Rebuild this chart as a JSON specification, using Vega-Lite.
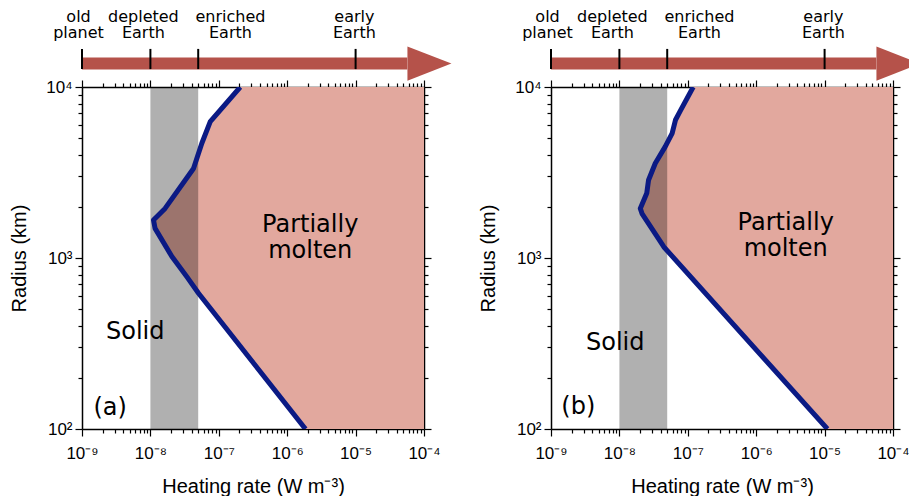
{
  "$schema": "https://vega.github.io/schema/vega-lite/v6.json",
  "padding": {"left": 9, "top": 9, "right": 0, "bottom": 0},
  "spacing": 26,
  "datasets": {
    "curveA": [
      {"q": 1.85e-6, "r": 100},
      {"q": 5.05e-8, "r": 622},
      {"q": 3.4e-8, "r": 778},
      {"q": 2.06e-8, "r": 1020},
      {"q": 1.17e-8, "r": 1490},
      {"q": 1.11e-8, "r": 1667},
      {"q": 1.64e-8, "r": 1950},
      {"q": 4.27e-8, "r": 3340},
      {"q": 5.65e-8, "r": 4690},
      {"q": 7.5e-8, "r": 6270},
      {"q": 2.06e-7, "r": 10000}
    ],
    "curveB": [
      {"q": 1.1e-5, "r": 100},
      {"q": 4.47e-8, "r": 1160},
      {"q": 2.14e-8, "r": 1820},
      {"q": 2.02e-8, "r": 1950},
      {"q": 2.51e-8, "r": 2390},
      {"q": 2.67e-8, "r": 2860},
      {"q": 3.35e-8, "r": 3580},
      {"q": 4.68e-8, "r": 4480},
      {"q": 5.9e-8, "r": 5360},
      {"q": 6.6e-8, "r": 6410},
      {"q": 7.87e-8, "r": 7330},
      {"q": 1.2e-7, "r": 10000}
    ],
    "band": [{"lo": 1e-8, "hi": 5e-8, "rlo": 100, "rhi": 10000}],
    "textA": [
      {"q": 2.17e-6, "r": 1560, "t": "Partially\nmolten"},
      {"q": 6e-9, "r": 371, "t": "Solid"},
      {"q": 2.58e-9, "r": 132, "t": "(a)"}
    ],
    "textB": [
      {"q": 2.7e-6, "r": 1610, "t": "Partially\nmolten"},
      {"q": 8.7e-9, "r": 317, "t": "Solid"},
      {"q": 2.51e-9, "r": 135, "t": "(b)"}
    ],
    "arrow": [{"q0": 1e-9, "q1": 5.7e-5, "qh": 1.2e-4, "r": 13700}],
    "arrowTicks": [{"q": 1e-9}, {"q": 1e-8}, {"q": 5e-8}, {"q": 1e-5}],
    "arrowLabels": [
      {"q": 8.9e-10, "t": "old\nplanet"},
      {"q": 7.9e-9, "t": "depleted\nEarth"},
      {"q": 1.48e-7, "t": "enriched\nEarth"},
      {"q": 9.6e-6, "t": "early\nEarth"}
    ]
  },
  "hconcat": [
    {
      "width": 342,
      "height": 342,
      "resolve": {"axis": {"x": "independent", "y": "independent"}},
      "layer": [
        {
          "data": {"name": "curveA"},
          "mark": {"type": "area", "orient": "horizontal", "color": "#e2a89e", "clip": true},
          "encoding": {
            "x": {"field": "q", "type": "quantitative", "scale": {"type": "log", "domain": [1e-9, 1e-4], "nice": false},
              "axis": {"orient": "bottom", "values": [1e-9,2e-9,3e-9,4e-9,5e-9,6e-9,7e-9,8e-9,9e-9,1e-8,2e-8,3e-8,4e-8,5e-8,6e-8,7e-8,8e-8,9e-8,1e-7,2e-7,3e-7,4e-7,5e-7,6e-7,7e-7,8e-7,9e-7,1e-6,2e-6,3e-6,4e-6,5e-6,6e-6,7e-6,8e-6,9e-6,1e-5,2e-5,3e-5,4e-5,5e-5,6e-5,7e-5,8e-5,9e-5,1e-4],
                "labelExpr": "abs(log(datum.value)/LN10 - round(log(datum.value)/LN10)) < 0.01 ? '10' + ['⁻⁹','⁻⁸','⁻⁷','⁻⁶','⁻⁵','⁻⁴'][round(log(datum.value)/LN10)+9] : ''",
                "tickSize": {"condition": {"test": "abs(log(datum.value)/LN10 - round(log(datum.value)/LN10)) < 0.01", "value": 7}, "value": 4},
                "labelOverlap": false, "labelFlush": false, "labelPadding": 9, "title": "Heating rate (W m⁻³)", "titlePadding": 15}},
            "x2": {"datum": 0.0001},
            "y": {"field": "r", "type": "quantitative", "scale": {"type": "log", "domain": [100, 10000], "nice": false},
              "axis": {"orient": "left", "values": [100,200,300,400,500,600,700,800,900,1000,2000,3000,4000,5000,6000,7000,8000,9000,10000],
                "labelExpr": "abs(log(datum.value)/LN10 - round(log(datum.value)/LN10)) < 0.01 ? '10' + ['²','³','⁴'][round(log(datum.value)/LN10)-2] : ''",
                "tickSize": {"condition": {"test": "abs(log(datum.value)/LN10 - round(log(datum.value)/LN10)) < 0.01", "value": 7}, "value": 4},
                "labelOverlap": false, "labelFlush": false, "labelPadding": 3, "title": "Radius (km)", "titlePadding": 16}}
          }
        },
        {
          "data": {"name": "band"},
          "mark": {"type": "rect", "color": "black", "opacity": 0.31},
          "encoding": {
            "x": {"field": "lo", "type": "quantitative",
              "axis": {"orient": "top", "values": [1e-9,2e-9,3e-9,4e-9,5e-9,6e-9,7e-9,8e-9,9e-9,1e-8,2e-8,3e-8,4e-8,5e-8,6e-8,7e-8,8e-8,9e-8,1e-7,2e-7,3e-7,4e-7,5e-7,6e-7,7e-7,8e-7,9e-7,1e-6,2e-6,3e-6,4e-6,5e-6,6e-6,7e-6,8e-6,9e-6,1e-5,2e-5,3e-5,4e-5,5e-5,6e-5,7e-5,8e-5,9e-5,1e-4], "labels": false, "title": null,
                "tickSize": {"condition": {"test": "abs(log(datum.value)/LN10 - round(log(datum.value)/LN10)) < 0.01", "value": 7}, "value": 4}}},
            "x2": {"field": "hi"},
            "y": {"field": "rlo", "type": "quantitative",
              "axis": {"orient": "right", "values": [100,200,300,400,500,600,700,800,900,1000,2000,3000,4000,5000,6000,7000,8000,9000,10000], "labels": false, "title": null,
                "tickSize": {"condition": {"test": "abs(log(datum.value)/LN10 - round(log(datum.value)/LN10)) < 0.01", "value": 7}, "value": 4}}},
            "y2": {"field": "rhi"}
          }
        },
        {
          "data": {"name": "curveA"},
          "mark": {"type": "line", "color": "#0b1a84", "strokeWidth": 5, "strokeJoin": "round", "clip": true},
          "encoding": {
            "x": {"field": "q", "type": "quantitative", "axis": null},
            "y": {"field": "r", "type": "quantitative", "axis": null},
            "order": {"field": "r"}
          }
        },
        {
          "data": {"name": "textA"},
          "mark": {"type": "text", "font": "DejaVu Sans", "fontSize": 24, "lineBreak": "\n", "lineHeight": 26, "align": "center", "baseline": "middle", "color": "black"},
          "encoding": {
            "x": {"field": "q", "type": "quantitative", "axis": null},
            "y": {"field": "r", "type": "quantitative", "axis": null},
            "text": {"field": "t"}
          }
        },
        {
          "data": {"name": "arrow"},
          "mark": {"type": "rule", "color": "#b5524a", "strokeWidth": 12, "strokeCap": "butt"},
          "encoding": {
            "x": {"field": "q0", "type": "quantitative", "axis": null},
            "x2": {"field": "q1"},
            "y": {"field": "r", "type": "quantitative", "axis": null}
          }
        },
        {
          "data": {"name": "arrow"},
          "mark": {"type": "point", "shape": "M -1 -0.773 L 1 0 L -1 0.773 Z", "size": 1936, "filled": true, "color": "#b5524a", "opacity": 1, "strokeWidth": 0},
          "encoding": {
            "x": {"field": "qh", "type": "quantitative", "axis": null},
            "y": {"field": "r", "type": "quantitative", "axis": null}
          }
        },
        {
          "data": {"name": "arrowTicks"},
          "mark": {"type": "rule", "color": "black", "strokeWidth": 2},
          "encoding": {
            "x": {"field": "q", "type": "quantitative", "axis": null},
            "y": {"datum": 12730, "type": "quantitative", "axis": null},
            "y2": {"datum": 16700}
          }
        },
        {
          "data": {"name": "arrowLabels"},
          "mark": {"type": "text", "font": "DejaVu Sans", "fontSize": 16, "lineBreak": "\n", "lineHeight": 16, "align": "center", "baseline": "middle", "color": "black"},
          "encoding": {
            "x": {"field": "q", "type": "quantitative", "axis": null},
            "y": {"datum": 25500, "type": "quantitative", "axis": null},
            "text": {"field": "t"}
          }
        }
      ]
    },
    {
      "width": 342,
      "height": 342,
      "resolve": {"axis": {"x": "independent", "y": "independent"}},
      "layer": [
        {
          "data": {"name": "curveB"},
          "mark": {"type": "area", "orient": "horizontal", "color": "#e2a89e", "clip": true},
          "encoding": {
            "x": {"field": "q", "type": "quantitative", "scale": {"type": "log", "domain": [1e-9, 1e-4], "nice": false},
              "axis": {"orient": "bottom", "values": [1e-9,2e-9,3e-9,4e-9,5e-9,6e-9,7e-9,8e-9,9e-9,1e-8,2e-8,3e-8,4e-8,5e-8,6e-8,7e-8,8e-8,9e-8,1e-7,2e-7,3e-7,4e-7,5e-7,6e-7,7e-7,8e-7,9e-7,1e-6,2e-6,3e-6,4e-6,5e-6,6e-6,7e-6,8e-6,9e-6,1e-5,2e-5,3e-5,4e-5,5e-5,6e-5,7e-5,8e-5,9e-5,1e-4],
                "labelExpr": "abs(log(datum.value)/LN10 - round(log(datum.value)/LN10)) < 0.01 ? '10' + ['⁻⁹','⁻⁸','⁻⁷','⁻⁶','⁻⁵','⁻⁴'][round(log(datum.value)/LN10)+9] : ''",
                "tickSize": {"condition": {"test": "abs(log(datum.value)/LN10 - round(log(datum.value)/LN10)) < 0.01", "value": 7}, "value": 4},
                "labelOverlap": false, "labelFlush": false, "labelPadding": 9, "title": "Heating rate (W m⁻³)", "titlePadding": 15}},
            "x2": {"datum": 0.0001},
            "y": {"field": "r", "type": "quantitative", "scale": {"type": "log", "domain": [100, 10000], "nice": false},
              "axis": {"orient": "left", "values": [100,200,300,400,500,600,700,800,900,1000,2000,3000,4000,5000,6000,7000,8000,9000,10000],
                "labelExpr": "abs(log(datum.value)/LN10 - round(log(datum.value)/LN10)) < 0.01 ? '10' + ['²','³','⁴'][round(log(datum.value)/LN10)-2] : ''",
                "tickSize": {"condition": {"test": "abs(log(datum.value)/LN10 - round(log(datum.value)/LN10)) < 0.01", "value": 7}, "value": 4},
                "labelOverlap": false, "labelFlush": false, "labelPadding": 3, "title": "Radius (km)", "titlePadding": 16}}
          }
        },
        {
          "data": {"name": "band"},
          "mark": {"type": "rect", "color": "black", "opacity": 0.31},
          "encoding": {
            "x": {"field": "lo", "type": "quantitative",
              "axis": {"orient": "top", "values": [1e-9,2e-9,3e-9,4e-9,5e-9,6e-9,7e-9,8e-9,9e-9,1e-8,2e-8,3e-8,4e-8,5e-8,6e-8,7e-8,8e-8,9e-8,1e-7,2e-7,3e-7,4e-7,5e-7,6e-7,7e-7,8e-7,9e-7,1e-6,2e-6,3e-6,4e-6,5e-6,6e-6,7e-6,8e-6,9e-6,1e-5,2e-5,3e-5,4e-5,5e-5,6e-5,7e-5,8e-5,9e-5,1e-4], "labels": false, "title": null,
                "tickSize": {"condition": {"test": "abs(log(datum.value)/LN10 - round(log(datum.value)/LN10)) < 0.01", "value": 7}, "value": 4}}},
            "x2": {"field": "hi"},
            "y": {"field": "rlo", "type": "quantitative",
              "axis": {"orient": "right", "values": [100,200,300,400,500,600,700,800,900,1000,2000,3000,4000,5000,6000,7000,8000,9000,10000], "labels": false, "title": null,
                "tickSize": {"condition": {"test": "abs(log(datum.value)/LN10 - round(log(datum.value)/LN10)) < 0.01", "value": 7}, "value": 4}}},
            "y2": {"field": "rhi"}
          }
        },
        {
          "data": {"name": "curveB"},
          "mark": {"type": "line", "color": "#0b1a84", "strokeWidth": 5, "strokeJoin": "round", "clip": true},
          "encoding": {
            "x": {"field": "q", "type": "quantitative", "axis": null},
            "y": {"field": "r", "type": "quantitative", "axis": null},
            "order": {"field": "r"}
          }
        },
        {
          "data": {"name": "textB"},
          "mark": {"type": "text", "font": "DejaVu Sans", "fontSize": 24, "lineBreak": "\n", "lineHeight": 26, "align": "center", "baseline": "middle", "color": "black"},
          "encoding": {
            "x": {"field": "q", "type": "quantitative", "axis": null},
            "y": {"field": "r", "type": "quantitative", "axis": null},
            "text": {"field": "t"}
          }
        },
        {
          "data": {"name": "arrow"},
          "mark": {"type": "rule", "color": "#b5524a", "strokeWidth": 12, "strokeCap": "butt"},
          "encoding": {
            "x": {"field": "q0", "type": "quantitative", "axis": null},
            "x2": {"field": "q1"},
            "y": {"field": "r", "type": "quantitative", "axis": null}
          }
        },
        {
          "data": {"name": "arrow"},
          "mark": {"type": "point", "shape": "M -1 -0.773 L 0.5 -0.193 L 0.5 0.193 L -1 0.773 Z", "size": 1936, "filled": true, "color": "#b5524a", "opacity": 1, "strokeWidth": 0},
          "encoding": {
            "x": {"field": "qh", "type": "quantitative", "axis": null},
            "y": {"field": "r", "type": "quantitative", "axis": null}
          }
        },
        {
          "data": {"name": "arrowTicks"},
          "mark": {"type": "rule", "color": "black", "strokeWidth": 2},
          "encoding": {
            "x": {"field": "q", "type": "quantitative", "axis": null},
            "y": {"datum": 12730, "type": "quantitative", "axis": null},
            "y2": {"datum": 16700}
          }
        },
        {
          "data": {"name": "arrowLabels"},
          "mark": {"type": "text", "font": "DejaVu Sans", "fontSize": 16, "lineBreak": "\n", "lineHeight": 16, "align": "center", "baseline": "middle", "color": "black"},
          "encoding": {
            "x": {"field": "q", "type": "quantitative", "axis": null},
            "y": {"datum": 25500, "type": "quantitative", "axis": null},
            "text": {"field": "t"}
          }
        }
      ]
    }
  ],
  "config": {
    "view": {"stroke": null},
    "axis": {"domainColor": "black", "domainWidth": 1.5, "tickColor": "black", "tickWidth": 1.2, "grid": false,
      "labelFont": "Liberation Sans", "labelFontSize": 17, "labelColor": "black",
      "titleFont": "Liberation Sans", "titleFontSize": 20, "titleFontWeight": "normal", "titleColor": "black"}
  }
}
